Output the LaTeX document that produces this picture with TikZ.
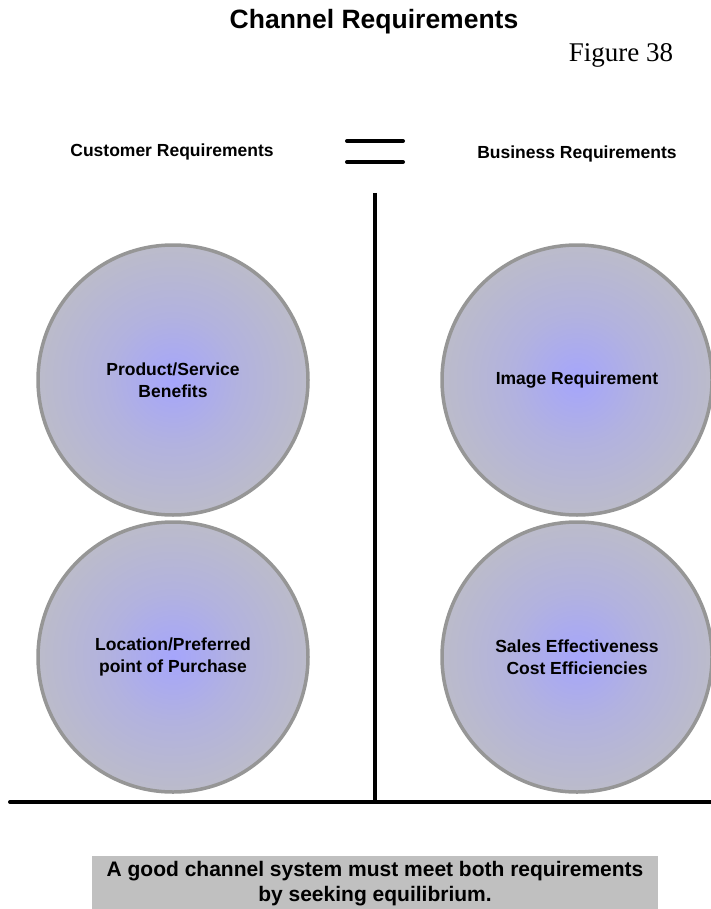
\documentclass[tikz,border=0pt]{standalone}
\usepackage{fontspec}
\setmainfont{Liberation Sans}
\newfontfamily\figfont{Liberation Serif}
\definecolor{ballcore}{RGB}{165,165,252}
\definecolor{ballrim}{RGB}{191,191,194}
\definecolor{ballline}{RGB}{150,150,150}
\definecolor{notegray}{RGB}{192,192,192}
\pgfdeclareradialshading{ballglow}{\pgfpoint{0bp}{0bp}}{color(0bp)=(ballcore); color(12bp)=(ballcore!50!ballrim); color(30bp)=(ballrim); color(50bp)=(ballrim)}
\begin{document}
\begin{tikzpicture}[x=1pt, y=-1pt]
    % Define styles
    \tikzstyle{ball} = [circle, minimum size=270pt, inner sep=0pt, align=center, draw=ballline, line width=3.5pt, shading=ballglow, font=\bfseries\fontsize{17.5}{22}\selectfont]
    \tikzstyle{heading} = [font=\bfseries\fontsize{17.5}{20}\selectfont]
    \tikzstyle{bar} = [draw, line width=4pt, black]
    \useasboundingbox (0,0) rectangle (710,909);

    % Place nodes
    \node [font=\bfseries\fontsize{26.5}{30}\selectfont] (title) at (374,22) {Channel Requirements};
    \node [font=\figfont\fontsize{27}{30}\selectfont] (fig) at (621,55) {Figure 38};
    \node [heading] (cust) at (172,152) {Customer Requirements};
    \node [heading] (busi) at (577,154) {Business Requirements};
    \node [ball] (benefit) at (173,380) {Product/Service\\Benefits};
    \node [ball] (location) at (173,657) {Location/Preferred\\point of Purchase};
    \node [ball] (image) at (577,380) {Image Requirement};
    \node [ball] (sales) at (577,657) {Sales Effectiveness\\Cost Efficiencies};
    \node [fill=notegray, minimum width=566pt, minimum height=56pt, inner sep=0pt, align=center, font=\bfseries\fontsize{21}{25}\selectfont] (note) at (375,884) {A good channel system must meet both requirements\\by seeking equilibrium.};

    % Place coordinates
    \coordinate (eqA1) at (347,141);
    \coordinate (eqA2) at (403,141);
    \coordinate (eqB1) at (347,162);
    \coordinate (eqB2) at (403,162);
    \coordinate (axtop) at (375,193);
    \coordinate (axbot) at (375,802);
    \coordinate (floorL) at (10,802);
    \coordinate (floorR) at (712,802);

    % Draw edges
    \path [bar, line cap=round] (eqA1) -- (eqA2);
    \path [bar, line cap=round] (eqB1) -- (eqB2);
    \path [bar] (axtop) -- (axbot);
    \path [bar, line cap=round] (floorL) -- (floorR);
\end{tikzpicture}
\end{document}
